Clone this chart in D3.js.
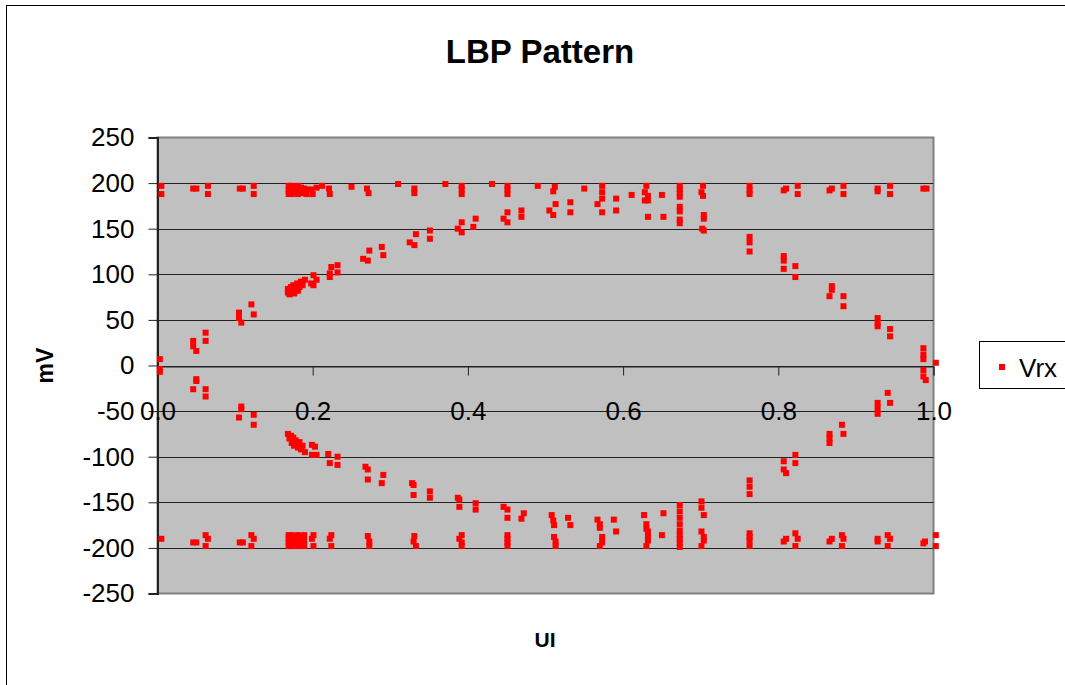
<!DOCTYPE html>
<html>
<head>
<meta charset="utf-8">
<script src="https://cdn.jsdelivr.net/npm/d3@7"></script>
<style>
  html, body { margin: 0; padding: 0; background: #fff; }
  svg { display: block; font-family: "Liberation Sans", Arial, sans-serif; }
</style>
</head>
<body>
<svg id="chart" width="1065" height="685"></svg>
<script>
// ---- data (series "Vrx") ----
const seriesName = "Vrx";
const chartTitle = "LBP Pattern";
const xTitle = "UI";
const yTitle = "mV";
const xTicks = [0, 0.2, 0.4, 0.6, 0.8, 1.0];
const yTicks = [250, 200, 150, 100, 50, 0, -50, -100, -150, -200, -250];

// top rail
const topUI = [0.005,0.005,0.046,0.050,0.065,0.065,0.106,0.110,0.124,0.124,
  0.169,0.169,0.169,0.173,0.173,0.173,0.177,0.177,0.181,0.181,0.181,0.185,0.185,0.189,0.192,0.192,
  0.198,0.200,0.205,0.212,0.221,0.222,0.250,0.270,0.272,0.310,0.331,0.331,0.371,
  0.392,0.392,0.392,0.431,0.451,0.451,0.451,0.490,0.512,0.510,0.550,0.573,0.573,0.573,0.611,
  0.630,0.628,0.632,0.628,0.632,0.650,0.673,0.673,0.673,0.673,0.703,0.701,0.703,
  0.763,0.763,0.763,0.807,0.810,0.825,0.825,0.866,0.869,0.884,0.884,0.928,0.928,0.944,0.944,0.987,0.991];
const topMV = [197,188,194,194,197,188,194,194,197,188,
  197,192,188,197,192,188,196,190,197,192,188,195,189,194,193,188,
  193,188,195,197,194,188,196,194,189,199,194,189,199,
  197,193,188,199,197,193,188,197,196,191,194,197,190,183,187,
  197,190,186,181,181,187,197,193,189,185,197,190,186,
  197,192,188,192,194,197,188,192,194,197,188,194,191,197,188,194,194];

// rising / falling upper curve
const upUI = [0.003,0.003,0.003,0.046,0.046,0.050,0.062,0.062,0.105,0.105,0.108,0.121,0.124,
  0.168,0.168,0.170,0.172,0.173,0.175,0.176,0.178,0.180,0.181,0.183,0.185,0.187,0.190,
  0.198,0.201,0.201,0.205,0.222,0.222,0.224,0.232,0.232,0.265,0.271,0.273,0.289,0.291,
  0.325,0.331,0.333,0.351,0.351,0.387,0.392,0.392,0.407,0.410,0.446,0.451,0.451,0.469,0.469,
  0.505,0.510,0.513,0.532,0.532,0.567,0.573,0.591,0.591,0.632,0.652,
  0.673,0.673,0.673,0.673,0.704,0.704,0.702,0.704,0.763,0.763,0.763,0.807,0.807,0.807,0.822,0.822,
  0.869,0.869,0.866,0.884,0.884,0.928,0.928,0.928,0.944,0.944,0.987,0.987,0.987,1.003,0.987,0.987,0.990];
const upMV = [7,-4,-7,27,21,16,36,27,58,52,47,67,56,
  80,84,78,86,82,88,79,84,90,82,86,92,88,94,
  90,99,88,94,97,101,108,110,102,117,115,126,130,121,
  135,132,144,148,139,150,157,146,152,161,161,168,157,170,163,
  170,165,177,179,168,177,168,183,170,163,163,
  174,169,160,156,165,161,150,148,141,135,125,120,115,106,109,97,
  87,83,76,76,65,52,47,43,40,32,19,12,7,3,-5,-12,-16];

// lower curve
const lowUI = [0.050,0.050,0.046,0.062,0.062,0.108,0.108,0.105,0.124,0.124,
  0.168,0.170,0.172,0.173,0.175,0.176,0.178,0.180,0.181,0.183,0.185,0.187,0.190,
  0.199,0.203,0.199,0.205,0.220,0.222,0.232,0.232,0.268,0.271,0.271,0.291,0.289,
  0.328,0.330,0.330,0.351,0.351,0.387,0.389,0.389,0.410,0.410,0.446,0.451,0.451,0.469,0.472,
  0.508,0.510,0.511,0.529,0.532,0.567,0.570,0.570,0.588,0.591,0.627,0.630,0.630,0.632,0.652,0.650,
  0.673,0.673,0.673,0.673,0.673,0.701,0.701,0.704,0.701,0.763,0.763,0.763,0.807,0.807,0.810,0.822,0.822,
  0.866,0.866,0.866,0.882,0.884,0.928,0.928,0.928,0.941,0.944];
const lowMV = [-15,-17,-26,-26,-34,-45,-48,-57,-54,-65,
  -75,-80,-77,-85,-79,-88,-82,-86,-90,-84,-92,-88,-95,
  -87,-89,-98,-98,-97,-107,-100,-109,-111,-114,-125,-120,-129,
  -129,-131,-142,-138,-145,-145,-147,-155,-151,-158,-155,-158,-167,-168,-162,
  -164,-170,-175,-167,-175,-169,-174,-178,-169,-182,-164,-174,-179,-182,-162,-186,
  -153,-160,-167,-174,-181,-149,-156,-164,-182,-126,-133,-141,-105,-114,-118,-98,-107,
  -75,-80,-85,-65,-75,-41,-47,-53,-30,-41];

// bottom rail
const botUI = [0.005,0.046,0.050,0.062,0.065,0.062,0.106,0.110,0.121,0.124,0.121,
  0.169,0.169,0.169,0.169,0.173,0.173,0.173,0.173,0.177,0.177,0.181,0.181,0.181,0.181,0.185,0.185,0.189,0.189,0.189,
  0.201,0.199,0.201,0.224,0.222,0.224,0.271,0.273,0.273,0.331,0.330,0.333,
  0.392,0.389,0.392,0.392,0.451,0.451,0.451,0.451,0.511,0.513,0.513,0.573,0.573,0.570,
  0.632,0.632,0.630,0.673,0.673,0.673,0.673,0.704,0.704,0.701,
  0.763,0.763,0.763,0.763,0.807,0.810,0.822,0.825,0.822,0.866,0.869,0.882,0.884,0.882,
  0.928,0.928,0.941,0.944,0.941,0.987,0.989,1.003,1.003];
const botMV = [-190,-194,-194,-186,-190,-198,-194,-194,-186,-190,-198,
  -186,-190,-194,-198,-186,-190,-194,-198,-188,-196,-186,-190,-194,-198,-188,-196,-186,-192,-198,
  -186,-190,-198,-186,-190,-198,-187,-193,-198,-187,-193,-198,
  -186,-190,-194,-198,-186,-190,-194,-198,-188,-193,-198,-188,-194,-198,
  -188,-192,-198,-186,-190,-194,-199,-188,-192,-198,
  -184,-188,-192,-198,-193,-190,-184,-190,-198,-193,-190,-186,-190,-198,
  -190,-193,-186,-190,-198,-195,-193,-186,-198];

// ---- drawing ----
const points = [];
[[topUI, topMV], [upUI, upMV], [lowUI, lowMV], [botUI, botMV]].forEach(([xs, ys]) => {
  xs.forEach((u, i) => points.push({ ui: u, mv: ys[i] }));
});

const svg = d3.select("#chart");
const plot = { left: 157.5, right: 933.5, top: 137.5, bottom: 593.5 };

const x = d3.scaleLinear().domain([0, 1]).range([plot.left, plot.right]);
const y = d3.scaleLinear().domain([-250, 250]).range([plot.bottom, plot.top]);

// chart outer border
svg.append("rect")
  .attr("x", 6.5).attr("y", 5.5).attr("width", 1200).attr("height", 800)
  .attr("fill", "#fff").attr("stroke", "#000").attr("stroke-width", 1);

// plot background
svg.append("rect")
  .attr("x", plot.left).attr("y", plot.top)
  .attr("width", plot.right - plot.left).attr("height", plot.bottom - plot.top)
  .attr("fill", "#c0c0c0").attr("stroke", "#808080").attr("stroke-width", 2);

// gridlines
svg.append("g")
  .selectAll("line")
  .data(yTicks.filter(v => v !== 250 && v !== -250))
  .join("line")
  .attr("x1", plot.left).attr("x2", plot.right)
  .attr("y1", d => Math.round(y(d)) + 0.5).attr("y2", d => Math.round(y(d)) + 0.5)
  .attr("stroke", "#222").attr("stroke-width", 1);

// y axis
const yAxis = d3.axisLeft(y).tickValues(yTicks).tickSize(9).tickPadding(14)
  .tickFormat(d3.format("d"));
const gy = svg.append("g").attr("transform", `translate(${plot.left},0)`).call(yAxis);
gy.select(".domain").attr("stroke", "#222").attr("stroke-width", 2);
gy.selectAll(".tick line").attr("stroke", "#222");
gy.selectAll(".tick text").attr("font-size", 26).attr("fill", "#000")
  .attr("font-family", "'Liberation Sans', Arial, sans-serif")
  .text(d => d < 0 ? "-" + Math.abs(d) : d);

// x axis at y = 0
const xAxis = d3.axisBottom(x).tickValues(xTicks).tickSize(9).tickPadding(26)
  .tickFormat(d3.format(".1f"));
const gx = svg.append("g").attr("transform", `translate(0,${Math.round(y(0)) + 0.5})`).call(xAxis);
gx.select(".domain").attr("stroke", "#222").attr("stroke-width", 1);
gx.selectAll(".tick line").attr("stroke", "#222");
gx.selectAll(".tick text").attr("font-size", 26).attr("fill", "#000")
  .attr("font-family", "'Liberation Sans', Arial, sans-serif");

// points
svg.append("g")
  .selectAll("rect")
  .data(points)
  .join("rect")
  .attr("x", d => x(d.ui) - 3)
  .attr("y", d => y(d.mv) - 3)
  .attr("width", 6).attr("height", 6)
  .attr("fill", "#ff0000");

// titles
svg.append("text").attr("x", 540).attr("y", 63).attr("text-anchor", "middle")
  .attr("font-size", 33).attr("font-weight", "bold").text(chartTitle);
svg.append("text").attr("x", 545).attr("y", 647).attr("text-anchor", "middle")
  .attr("font-size", 21).attr("font-weight", "bold").text(xTitle);
svg.append("text").attr("transform", `translate(53,${y(0)}) rotate(-90)`)
  .attr("text-anchor", "middle").attr("font-size", 23).attr("font-weight", "bold").text(yTitle);

// legend
const lg = svg.append("g");
lg.append("rect").attr("x", 979.5).attr("y", 341.5).attr("width", 120).attr("height", 47)
  .attr("fill", "#fff").attr("stroke", "#000").attr("stroke-width", 1);
lg.append("rect").attr("x", 999).attr("y", 364).attr("width", 6).attr("height", 6).attr("fill", "#ff0000");
lg.append("text").attr("x", 1019).attr("y", 377).attr("font-size", 26).text(seriesName);
</script>
</body>
</html>
